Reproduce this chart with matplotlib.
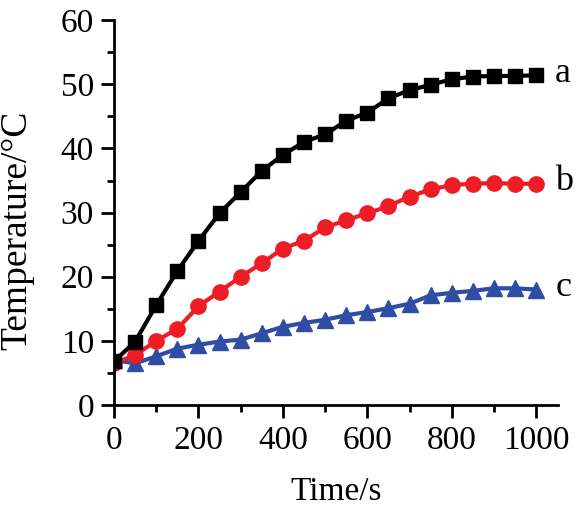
import matplotlib
matplotlib.use("Agg")
import matplotlib.pyplot as plt
from matplotlib.ticker import MultipleLocator

plt.rcParams['font.family'] = ['Liberation Serif', 'DejaVu Serif']

time_s = [0, 50, 100, 150, 200, 250, 300, 350, 400, 450, 500,
          550, 600, 650, 700, 750, 800, 850, 900, 950, 1000]
temp_a = [6.8, 9.9, 15.6, 20.9, 25.6, 29.9, 33.2, 36.5, 39.0, 41.0, 42.2,
          44.3, 45.6, 47.8, 49.1, 49.9, 50.8, 51.2, 51.3, 51.3, 51.4]
temp_b = [6.5, 7.8, 10.0, 11.9, 15.4, 17.7, 20.0, 22.1, 24.4, 25.6, 27.7,
          28.8, 29.9, 31.0, 32.5, 33.6, 34.3, 34.5, 34.6, 34.5, 34.5]
temp_c = [7.0, 6.5, 7.6, 8.8, 9.4, 9.9, 10.2, 11.2, 12.2, 12.8, 13.3,
          14.0, 14.5, 15.1, 15.8, 17.1, 17.5, 17.8, 18.2, 18.2, 18.0]
curve_labels = ['a', 'b', 'c']

fig = plt.figure(figsize=(5.79, 5.16), dpi=100)
ax = fig.add_axes([0.197, 0.215, 0.767, 0.746])

ax.plot(time_s, temp_c, color='#2E4DA3', marker='^', markersize=11, lw=3)
ax.plot(time_s, temp_b, color='#EE1C25', marker='o', markersize=11, lw=3)
ax.plot(time_s, temp_a, color='black', marker='s', markersize=9.5, lw=3)

for lab, series in zip(curve_labels, [temp_a, temp_b, temp_c]):
    ax.text(1045, series[-1] + 0.3, lab, fontsize=26, ha='left', va='center')

ax.set_xlim(0, 1052)
ax.set_ylim(0, 60)
ax.xaxis.set_major_locator(MultipleLocator(200))
ax.xaxis.set_minor_locator(MultipleLocator(100))
ax.yaxis.set_major_locator(MultipleLocator(10))
ax.yaxis.set_minor_locator(MultipleLocator(5))

for side in ['top', 'right']:
    ax.spines[side].set_visible(False)
for side in ['left', 'bottom']:
    ax.spines[side].set_linewidth(2)

ax.tick_params(which='major', direction='out', length=9.5, width=2, labelsize=24, pad=5)
ax.tick_params(which='minor', direction='out', length=5, width=2)

ax.set_xlabel('Time/s', fontsize=24, labelpad=15)
ax.set_ylabel('Temperature/°C', fontsize=27)
ax.yaxis.set_label_coords(-0.18, 0.455)

fig.savefig('out.png', dpi=100)
